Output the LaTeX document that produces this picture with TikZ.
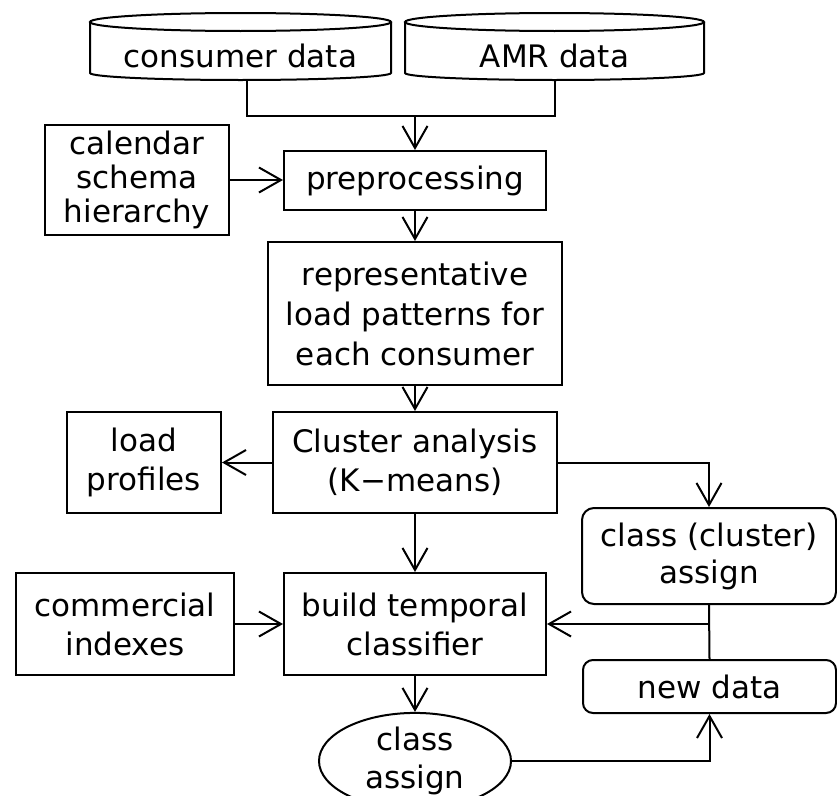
\documentclass[tikz,border=0pt]{standalone}
\usepackage{fontspec}
\setmainfont{DejaVu Sans}
\usetikzlibrary{arrows.meta,shapes.geometric}
\begin{document}
\begin{tikzpicture}[x=1pt,y=-1pt, line width=2pt,
  every node/.style={font=\fontsize{31}{39}\selectfont, align=center, inner sep=0pt},
  box/.style={draw, rectangle},
  rbox/.style={draw, rectangle, rounded corners=12pt},
  cylt/.style={rectangle},
  oval/.style={draw, ellipse},
  arr/.style={-{Straight Barb[length=22pt,width=25pt]}}]
\useasboundingbox (0,0) rectangle (837,795);

% data stores
\node[cylt, minimum width=301, minimum height=48] (cons) at (240.5,56) {consumer data};
\node[cylt, minimum width=299, minimum height=48] (amr) at (554.5,56) {AMR data};
\draw (240.5,22) ellipse [x radius=150.5pt, y radius=9pt];
\draw (90,22) -- (90,73) arc[start angle=180, end angle=360, x radius=150.5pt, y radius=7pt] -- (391,22);
\draw (554.5,22) ellipse [x radius=149.5pt, y radius=9pt];
\draw (405,22) -- (405,73) arc[start angle=180, end angle=360, x radius=149.5pt, y radius=7pt] -- (704,22);

% main column
\node[box, minimum width=262, minimum height=59] (pre) at (415,180.5) {preprocessing};
\node[box, minimum width=184, minimum height=110, font=\fontsize{31}{34}\selectfont] (cal) at (137,180) {calendar\\schema\\hierarchy};
\node[box, minimum width=294, minimum height=143, font=\fontsize{31}{40}\selectfont] (rep) at (415,313.5) {representative\\load patterns for\\each consumer};
\node[box, minimum width=284, minimum height=101] (clu) at (415,462.5) {Cluster analysis\\(K{\char"2212}means)};
\node[box, minimum width=154, minimum height=101] (lp) at (144,462.5) {load\\profiles};
\node[box, minimum width=262, minimum height=102] (bld) at (415,624) {build temporal\\classifier};
\node[box, minimum width=218, minimum height=102] (com) at (125,624) {commercial\\indexes};
\node[rbox, minimum width=254, minimum height=96, font=\fontsize{31}{37}\selectfont] (cca) at (709,556) {class (cluster)\\assign};
\node[rbox, minimum width=253, minimum height=53, rounded corners=10pt] (nd) at (709.5,686.5) {new data};
\node[oval, minimum width=192, minimum height=96, font=\fontsize{31}{38}\selectfont] (ell) at (415,761) {class\\assign};

\coordinate (j) at (415,116);

% connectors
\draw ([xshift=6pt]cons.south) |- (j) -| (amr.south);
\draw[arr] (j) -- (pre.north);
\draw[arr] (cal.east) -- (pre.west |- cal.east);
\draw[arr] (pre) -- (rep);
\draw[arr] (rep) -- (clu);
\draw[arr] (clu) -- (lp);
\draw[arr] (clu) -- (bld);
\draw[arr] (com) -- (bld);
\draw[arr] (clu.east) -| (cca.north);
\draw (cca.south) -- (nd.north);
\draw[arr] (cca.south |- bld.east) -- (bld.east);
\draw[arr] (bld) -- (ell);
\draw[arr] (ell.east) -| (nd.south);
\end{tikzpicture}
\end{document}
